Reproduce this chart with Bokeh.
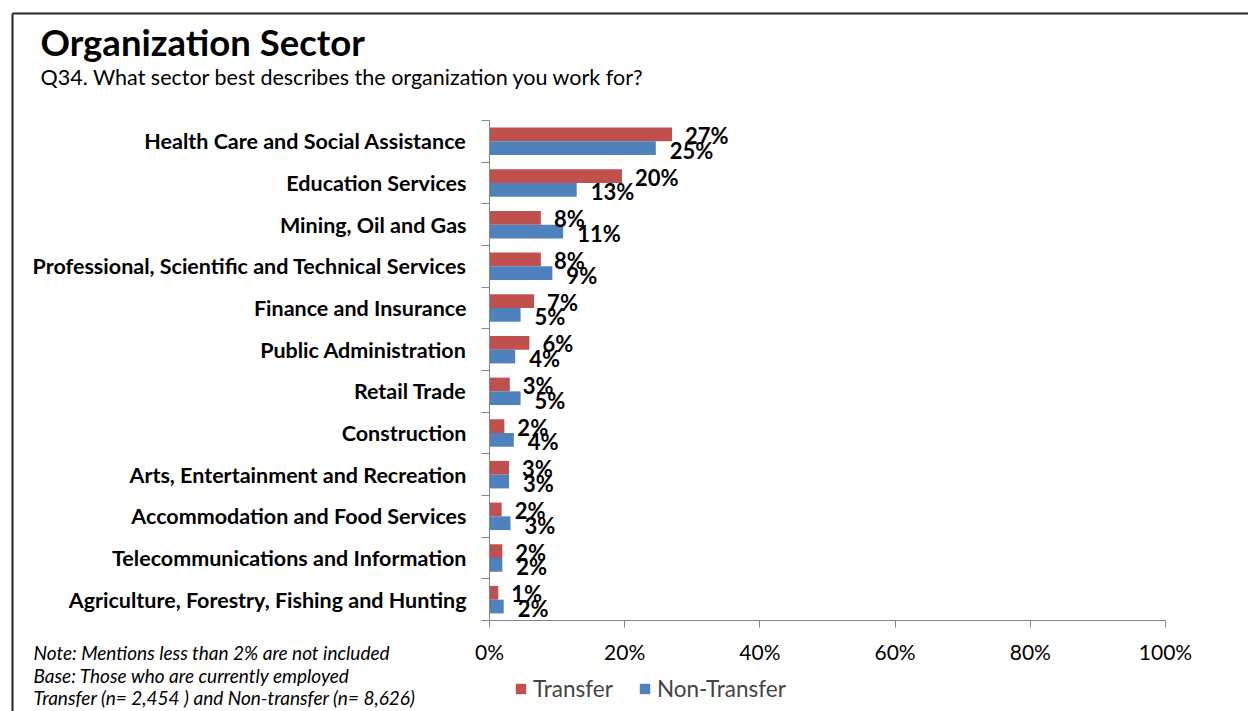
from bokeh.plotting import figure
from bokeh.models import (Range1d, LinearAxis, FixedTicker, Legend, LegendItem,
                          ColumnDataSource, PrintfTickFormatter, CustomJSTickFormatter, Label)
from bokeh.transform import dodge
from bokeh.core.properties import value
from bokeh.embed import file_html
from bokeh.resources import INLINE

# ---------------- data ----------------
categories = [
    "Health Care and Social Assistance",
    "Education Services",
    "Mining, Oil and Gas",
    "Professional, Scientific and Technical Services",
    "Finance and Insurance",
    "Public Administration",
    "Retail Trade",
    "Construction",
    "Arts, Entertainment and Recreation",
    "Accommodation and Food Services",
    "Telecommunications and Information",
    "Agriculture, Forestry, Fishing and Hunting",
]
transfer = [27.0, 19.6, 7.6, 7.6, 6.6, 5.9, 3.0, 2.2, 2.9, 1.8, 1.9, 1.3]
non_transfer = [24.6, 12.9, 10.9, 9.3, 4.6, 3.8, 4.6, 3.6, 2.9, 3.1, 1.9, 2.1]
x_ticks = [0, 20, 40, 60, 80, 100]
series_names = ["Transfer", "Non-Transfer"]
title_text = "Organization Sector"
subtitle_text = "Q34. What sector best describes the organization you work for?"
notes = [
    "Note: Mentions less than 2% are not included",
    "Base: Those who are currently employed",
    "Transfer (n= 2,454 ) and Non-transfer (n= 8,626)",
]

# ---------------- layout helpers ----------------
W, H = 1248, 711
FONT = "Lato"
RED, BLUE = "#C0504D", "#4F81BD"
AXIS = "#868686"

X0_PAGE, X100_PAGE = 489, 1165          # canvas px of 0% and 100%
PX_PER = (X100_PAGE - X0_PAGE) / 100.0
Y_BOTTOM_PAGE, Y_TOP_PAGE = 620, 120     # canvas px of the category band edges
n = len(categories)
PY_PER = (Y_BOTTOM_PAGE - Y_TOP_PAGE) / n


def dx(px):
    return (px - X0_PAGE) / PX_PER


def dy(py):
    return -0.5 + (Y_BOTTOM_PAGE - py) / PY_PER


ys = [n - 1 - i for i in range(n)]
src = ColumnDataSource(dict(
    y=ys,
    cat=categories,
    t=transfer,
    nt=non_transfer,
    t_lab=[f"{round(v)}%" for v in transfer],
    nt_lab=[f"{round(v)}%" for v in non_transfer],
))

p = figure(width=W, height=H,
           x_range=Range1d(dx(0), dx(W)),
           y_range=Range1d(dy(H), dy(0)),
           x_axis_type=None, y_axis_type=None,
           min_border=0, toolbar_location=None, output_backend="svg")
p.outline_line_color = None
p.xgrid.visible = False
p.ygrid.visible = False
p.background_fill_color = "white"
p.border_fill_color = "white"

BAR_H = 0.33
rt = p.hbar(y=dodge("y", BAR_H / 2, range=p.y_range), left=0, right="t", height=BAR_H,
            source=src, fill_color=RED, line_color=None)
rn = p.hbar(y=dodge("y", -BAR_H / 2, range=p.y_range), left=0, right="nt", height=BAR_H,
            source=src, fill_color=BLUE, line_color=None)

# data labels
p.text(x="t", y=dodge("y", BAR_H / 2, range=p.y_range), text="t_lab", source=src,
       x_offset=13, y_offset=1, text_baseline="middle", text_align="left",
       text_font=value(FONT), text_font_style="bold", text_font_size="22px", text_color="black")
p.text(x="nt", y=dodge("y", -BAR_H / 2, range=p.y_range), text="nt_lab", source=src,
       x_offset=14, y_offset=2, text_baseline="middle", text_align="left",
       text_font=value(FONT), text_font_style="bold", text_font_size="22px", text_color="black")

# y axis (categories) at x = 0
yaxis = LinearAxis(fixed_location=0, bounds=(-0.5, n - 0.5),
                   ticker=FixedTicker(ticks=ys, minor_ticks=[k - 0.5 for k in range(n + 1)]),
                   formatter=CustomJSTickFormatter(args=dict(labels=categories[::-1]),
                                                   code="const i = Math.round(tick); return labels[i] || '';"))
yaxis.axis_line_color = AXIS
yaxis.major_tick_line_color = None
yaxis.minor_tick_line_color = AXIS
yaxis.minor_tick_out = 8
yaxis.minor_tick_in = 0
yaxis.major_label_standoff = 15
yaxis.major_label_text_font = FONT
yaxis.major_label_text_font_style = "bold"
yaxis.major_label_text_font_size = "21.5px"
yaxis.major_label_text_color = "black"
p.add_layout(yaxis, "left")

# x axis (percent) at bottom of bands
xaxis = LinearAxis(fixed_location=-0.5, bounds=(0, 100),
                   ticker=FixedTicker(ticks=x_ticks, minor_ticks=[]),
                   formatter=PrintfTickFormatter(format="%d%%"))
xaxis.axis_line_color = AXIS
xaxis.major_tick_line_color = AXIS
xaxis.major_tick_out = 7
xaxis.major_tick_in = 0
xaxis.minor_tick_line_color = None
xaxis.major_label_standoff = 11
xaxis.major_label_text_font = FONT
xaxis.major_label_text_font_size = "21px"
xaxis.major_label_text_color = "black"
p.add_layout(xaxis, "below")

# border (left and top)
p.segment(x0=[dx(12), dx(12)], y0=[dy(13), dy(13)], x1=[dx(12), dx(W)], y1=[dy(H), dy(13)],
          line_color="#262626", line_width=2)

# title and subtitle
p.add_layout(Label(x=dx(40), y=dy(41), text=title_text, text_font=FONT, text_font_style="bold",
                   text_font_size="36.5px", text_baseline="middle", text_color="black"))
p.add_layout(Label(x=dx(40), y=dy(76), text=subtitle_text, text_font=FONT,
                   text_font_size="21.5px", text_baseline="middle", text_color="black"))

# notes
for k, line in enumerate(notes):
    p.add_layout(Label(x=dx(33), y=dy(652 + 22.5 * k), text=line, text_font=FONT,
                       text_font_style="italic", text_font_size="19px",
                       text_baseline="middle", text_color="black"))

# legend
legend = Legend(items=[LegendItem(label=series_names[0], renderers=[rt]),
                       LegendItem(label=series_names[1], renderers=[rn])],
                orientation="horizontal", location=(514, H - 702),
                glyph_width=13, glyph_height=13, label_standoff=6, spacing=25,
                padding=0, margin=0, border_line_color=None, background_fill_alpha=0,
                label_text_font=FONT, label_text_font_size="22.5px", label_height=24)
p.add_layout(legend, "center")

open("out.html", "w").write(file_html(p, INLINE))
